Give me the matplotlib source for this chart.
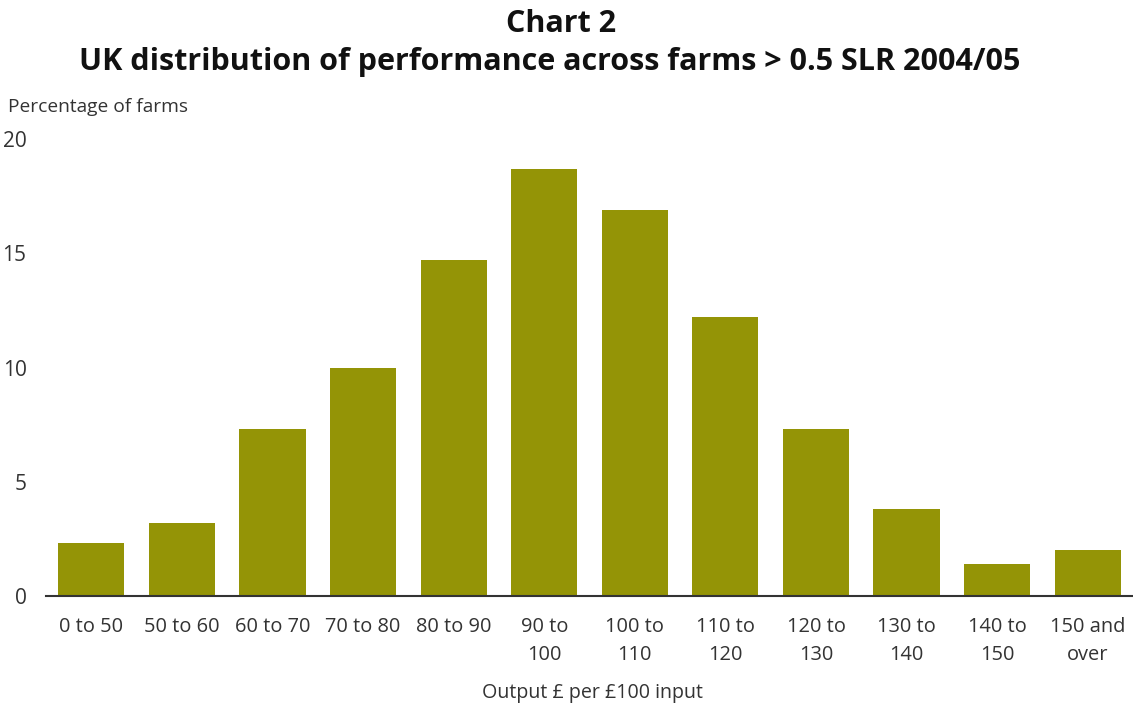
import matplotlib
matplotlib.use("Agg")
import matplotlib.pyplot as plt

categories = ["0 to 50", "50 to 60", "60 to 70", "70 to 80", "80 to 90", "90 to\n100",
              "100 to\n110", "110 to\n120", "120 to\n130", "130 to\n140", "140 to\n150", "150 and\nover"]
values = [2.3, 3.2, 7.3, 10.0, 14.7, 18.7, 16.9, 12.2, 7.3, 3.8, 1.4, 2.0]
yticks = [0, 5, 10, 15, 20]

plt.rcParams['font.family'] = ['Open Sans', 'DejaVu Sans']
txt = '#333333'

fig = plt.figure(figsize=(11.33, 7.08), dpi=100)
ax = fig.add_axes([46/1133, 1-596/708, 1-46/1133, (596-139)/708])
x = list(range(len(categories)))
ax.bar(x, values, width=0.73, color='#949406')
ax.set_xlim(-0.5, 11.5)
ax.set_ylim(0, 20)
ax.set_yticks(yticks)
ax.set_yticklabels([str(v) for v in yticks], fontsize=15, color=txt)
ax.set_xticks(x)
ax.set_xticklabels(categories, fontsize=14.4, color=txt, linespacing=1.55)
ax.tick_params(axis='both', length=0)
ax.tick_params(axis='y', pad=14)
ax.tick_params(axis='x', pad=15)
for s in ['top', 'right', 'left']:
    ax.spines[s].set_visible(False)
ax.spines['bottom'].set_color('#333333')
ax.spines['bottom'].set_linewidth(1.5)

fig.text(0.495, 1-24/708, "Chart 2", ha='center', va='center', fontsize=22, fontweight='bold', color='#111111')
fig.text(0.485, 1-62/708, "UK distribution of performance across farms > 0.5 SLR 2004/05",
         ha='center', va='center', fontsize=22, fontweight='bold', color='#111111')
fig.text(8/1133, 1-107/708, "Percentage of farms", ha='left', va='center', fontsize=13.8, color=txt)
fig.text(592/1133, 1-693/708, "Output £ per £100 input", ha='center', va='center', fontsize=14.1, color=txt)

fig.savefig("out.png", dpi=100)
